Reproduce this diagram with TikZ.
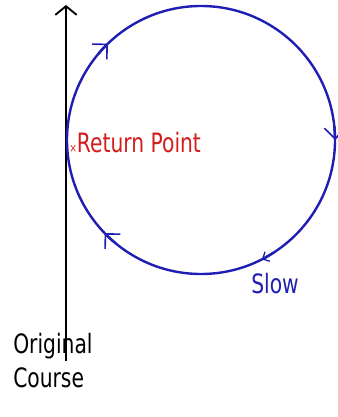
\documentclass[tikz,border=0pt]{standalone}
\usepackage{fontspec}
\setmainfont{DejaVu Sans}
\usepackage{graphicx}
\usepackage{tikz}
\usetikzlibrary{arrows.meta,positioning}
\definecolor{cloop}{HTML}{1E1EB4}
\definecolor{cret}{HTML}{D41C1C}
\newcommand{\narrow}[1]{\scalebox{0.76}[1]{#1}}
\tikzset{
  looptip/.tip={Straight Barb[length=8pt,width=16pt,line width=1.2pt]},
  slowtip/.tip={Straight Barb[length=4pt,width=8pt,line width=1pt]},
  course/.style={draw=black, line width=1.4pt, -{Straight Barb[length=6.5pt,width=16pt]}},
  loop/.style={draw=cloop, line width=1.8pt},
  lbl/.style={font=\fontsize{20}{25}\selectfont, inner sep=0pt, align=left},
}
\begin{document}
\begin{tikzpicture}[x=0.75pt,y=-0.75pt]
\useasboundingbox (0,0) rectangle (338,417);
% original course
\coordinate (foot) at (66,361);
\coordinate (tip) at (66,5);
\draw[course] (foot) -- (tip);
\node[lbl, anchor=base west] (orig) at (13,387) {\narrow{Original}\\\narrow{Course}};
% the loop; y points down, so a rising angle runs clockwise
\coordinate (ctr) at (201,140);
\draw[loop] (ctr) circle[radius=134];
\foreach \a/\t in {-134/looptip, 0/looptip, 63/slowtip, -224/looptip}
  \draw[loop, -{\t}] (ctr) ++(\a-6:134) arc[start angle=\a-6, end angle=\a, radius=134];
% labels on the loop
\node[lbl, anchor=base west, text=cret] (ret) at (69,152) {\narrow{{\fontsize{9}{9}\selectfont ×}Return Point}};
\node[lbl, anchor=base west, text=cloop] (slow) at (251,293) {\narrow{Slow}};
\end{tikzpicture}
\end{document}
